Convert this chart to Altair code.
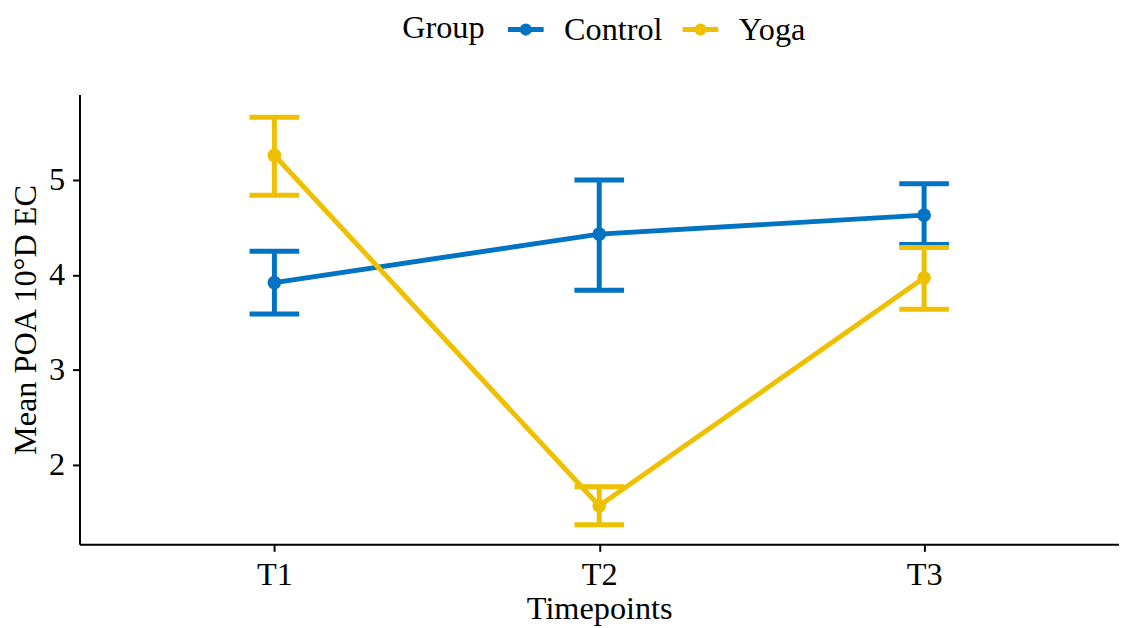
import altair as alt
import pandas as pd

timepoints = ["T1", "T2", "T3"]
groups = ["Control", "Yoga"]
colors = ["#0073C2", "#EFC000"]

control_mean = [3.92, 4.43, 4.63]
control_low = [3.59, 3.84, 4.32]
control_high = [4.25, 5.00, 4.96]

yoga_mean = [5.26, 1.57, 3.97]
yoga_low = [4.84, 1.37, 3.64]
yoga_high = [5.66, 1.77, 4.29]

y_ticks = [2, 3, 4, 5]

rows = []
for g, means, lows, highs in [
    ("Control", control_mean, control_low, control_high),
    ("Yoga", yoga_mean, yoga_low, yoga_high),
]:
    for t, m, lo, hi in zip(timepoints, means, lows, highs):
        rows.append({"Timepoint": t, "Group": g, "mean": m, "low": lo, "high": hi})
df = pd.DataFrame(rows)

FONT = "Liberation Serif"
FS = 32.5

legend_path = (
    "M-1,0L1,0"
    "M0.2,0A0.2,0.2 0 1,1 -0.2,0A0.2,0.2 0 1,1 0.2,0"
    "M0.07,0A0.07,0.07 0 1,1 -0.07,0A0.07,0.07 0 1,1 0.07,0"
)

x_enc = alt.X(
    "Timepoint:N",
    sort=timepoints,
    scale=alt.Scale(type="point", padding=0.6),
    axis=alt.Axis(title="Timepoints", labelAngle=0, labelPadding=7, titlePadding=2),
)
y_scale = alt.Scale(domain=[1.164, 5.899], nice=False, zero=False)
color_enc = alt.Color(
    "Group:N",
    scale=alt.Scale(domain=groups, range=colors),
    legend=alt.Legend(
        orient="none",
        legendX=325,
        legendY=-86,
        direction="horizontal",
        titleOrient="left",
        titleAnchor="middle",
        titleBaseline="middle",
        symbolType=legend_path,
        symbolSize=1296,
        symbolStrokeWidth=5,
        symbolOpacity=1,
        labelOffset=18,
        columnPadding=9,
        titlePadding=20,
    ),
)

base = alt.Chart(df)

line = base.mark_line(strokeWidth=5, opacity=1).encode(
    x=x_enc,
    y=alt.Y("mean:Q", scale=y_scale,
            axis=alt.Axis(title="Mean POA 10°D EC", values=y_ticks, format="d",
                          labelPadding=8, titlePadding=6)),
    color=color_enc,
)
stem = base.mark_rule(strokeWidth=5, opacity=1).encode(
    x=x_enc, y=alt.Y("low:Q", scale=y_scale), y2="high:Q", color=color_enc
)
cap_low = base.mark_tick(size=50, thickness=5, opacity=1).encode(
    x=x_enc, y=alt.Y("low:Q", scale=y_scale), color=color_enc
)
cap_high = base.mark_tick(size=50, thickness=5, opacity=1).encode(
    x=x_enc, y=alt.Y("high:Q", scale=y_scale), color=color_enc
)
pts = base.mark_circle(size=190, opacity=1).encode(
    x=x_enc, y=alt.Y("mean:Q", scale=y_scale), color=color_enc
)

chart = (
    alt.layer(line, stem, cap_low, cap_high, pts)
    .properties(
        width=1047,
        height=453,
        autosize=alt.AutoSizeParams(type="none"),
        padding={"left": 72, "top": 85, "right": 0, "bottom": 82},
    )
    .configure_view(stroke=None)
    .configure_axis(
        labelFont=FONT,
        titleFont=FONT,
        labelFontSize=FS,
        titleFontSize=FS,
        titleFontWeight="normal",
        labelColor="black",
        titleColor="black",
        domainColor="black",
        domainWidth=2,
        tickColor="black",
        tickWidth=2,
        tickSize=7,
        grid=False,
    )
    .configure_legend(
        labelFont=FONT,
        titleFont=FONT,
        labelFontSize=FS,
        titleFontSize=FS,
        titleFontWeight="normal",
        labelColor="black",
        titleColor="black",
    )
)

chart.save("out.html", embed_options={"renderer": "svg", "actions": False})
